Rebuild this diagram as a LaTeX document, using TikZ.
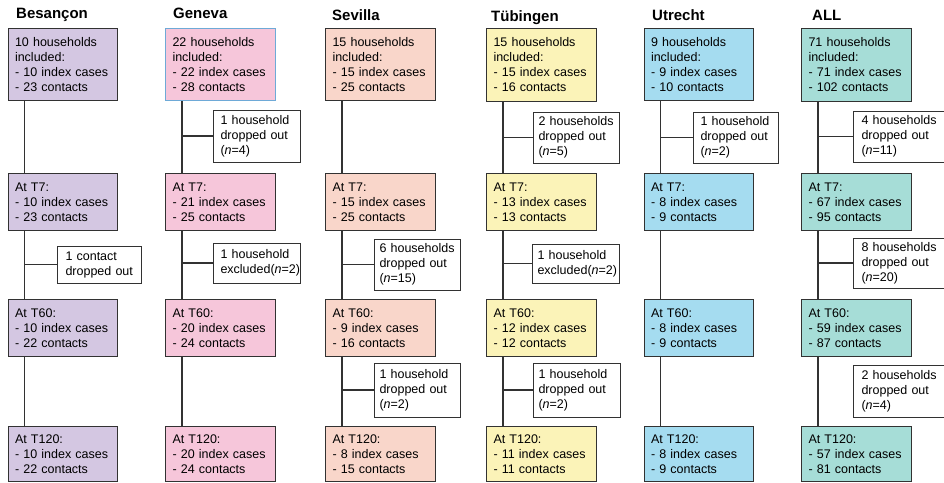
\documentclass[tikz,border=0pt]{standalone}
\usepackage{fontspec}
\setmainfont{Liberation Sans}
\definecolor{cB}{RGB}{212,199,226}
\definecolor{cG}{RGB}{246,198,218}
\definecolor{cS}{RGB}{249,214,202}
\definecolor{cT}{RGB}{251,243,184}
\definecolor{cU}{RGB}{165,220,240}
\definecolor{cA}{RGB}{166,221,215}
\definecolor{boxline}{RGB}{50,50,50}
\definecolor{gline}{RGB}{110,170,215}
\begin{document}
\hyphenpenalty=10000
\exhyphenpenalty=10000
\begin{tikzpicture}[x=1pt,y=-1pt,
  every node/.style={font=\fontsize{12.5}{15}\selectfont},
  mainbox/.style={draw=boxline, line width=1pt, anchor=north west, inner xsep=0pt, inner ysep=0pt,
    minimum width=109.5pt, text width=95.5pt, align=left},
  dropbox/.style={draw=boxline, fill=white, line width=1pt, anchor=west, inner xsep=0pt, inner ysep=0pt, align=left},
  title/.style={font=\fontsize{15}{18}\selectfont\bfseries, anchor=base west, inner sep=0pt},
  link/.style={draw=boxline, line width=1.1pt}]
\useasboundingbox (0,0) rectangle (944,482);

% titles
\node[title] (tB) at (16,18) {Besançon};
\node[title] (tG) at (173,18) {Geneva};
\node[title] (tS) at (332,20) {Sevilla};
\node[title] (tT) at (491,21) {Tübingen};
\node[title] (tU) at (652,20) {Utrecht};
\node[title] (tA) at (812,20) {ALL};

% Besançon
\node[mainbox, fill=cB, minimum height=72.5pt] (B0) at (7.5,27.5) {10 households\\included:\\- 10 index cases\\- 23 contacts};
\node[mainbox, fill=cB, minimum height=57pt] (B1) at (7.5,173) {At T7:\\- 10 index cases\\- 23 contacts};
\node[mainbox, fill=cB, minimum height=57pt] (B2) at (7.5,299) {At T60:\\- 10 index cases\\- 22 contacts};
\node[mainbox, fill=cB, minimum height=55pt] (B3) at (7.5,426) {At T120:\\- 10 index cases\\- 22 contacts};

% Geneva
\node[mainbox, draw=gline, fill=cG, minimum height=72.5pt] (G0) at (165,27.5) {22 households\\included:\\- 22 index cases\\- 28 contacts};
\node[mainbox, fill=cG, minimum height=57pt] (G1) at (165,173) {At T7:\\- 21 index cases\\- 25 contacts};
\node[mainbox, fill=cG, minimum height=57pt] (G2) at (165,299) {At T60:\\- 20 index cases\\- 24 contacts};
\node[mainbox, fill=cG, minimum height=55pt] (G3) at (165,426) {At T120:\\- 20 index cases\\- 24 contacts};

% Sevilla
\node[mainbox, fill=cS, minimum height=72.5pt] (S0) at (325,27.5) {15 households\\included:\\- 15 index cases\\- 25 contacts};
\node[mainbox, fill=cS, minimum height=57pt] (S1) at (325,173) {At T7:\\- 15 index cases\\- 25 contacts};
\node[mainbox, fill=cS, minimum height=57pt] (S2) at (325,299) {At T60:\\- 9 index cases\\- 16 contacts};
\node[mainbox, fill=cS, minimum height=55pt] (S3) at (325,426) {At T120:\\- 8 index cases\\- 15 contacts};

% Tuebingen
\node[mainbox, fill=cT, minimum height=72.5pt] (T0) at (486,28) {15 households\\included:\\- 15 index cases\\- 16 contacts};
\node[mainbox, fill=cT, minimum height=57pt] (T1) at (486,173) {At T7:\\- 13 index cases\\- 13 contacts};
\node[mainbox, fill=cT, minimum height=57pt] (T2) at (486,299) {At T60:\\- 12 index cases\\- 12 contacts};
\node[mainbox, fill=cT, minimum height=55pt] (T3) at (486,426) {At T120:\\- 11 index cases\\- 11 contacts};

% Utrecht
\node[mainbox, fill=cU, minimum height=72.5pt] (U0) at (643.5,27.5) {9 households\\included:\\- 9 index cases\\- 10 contacts};
\node[mainbox, fill=cU, minimum height=57pt] (U1) at (643.5,173) {At T7:\\- 8 index cases\\- 9 contacts};
\node[mainbox, fill=cU, minimum height=57pt] (U2) at (643.5,299) {At T60:\\- 8 index cases\\- 9 contacts};
\node[mainbox, fill=cU, minimum height=55pt] (U3) at (643.5,426) {At T120:\\- 8 index cases\\- 9 contacts};

% ALL
\node[mainbox, fill=cA, minimum height=72.5pt] (A0) at (801,28) {71 households\\included:\\- 71 index cases\\- 102 contacts};
\node[mainbox, fill=cA, minimum height=57pt] (A1) at (801,173) {At T7:\\- 67 index cases\\- 95 contacts};
\node[mainbox, fill=cA, minimum height=57pt] (A2) at (801,299) {At T60:\\- 59 index cases\\- 87 contacts};
\node[mainbox, fill=cA, minimum height=55pt] (A3) at (801,426) {At T120:\\- 57 index cases\\- 81 contacts};

% drop-out boxes
\node[dropbox, minimum width=87pt, text width=73pt, minimum height=52pt] (Gd1) at (213,136) {1~household\\dropped~out\\(\textit{n}=4)};
\node[dropbox, minimum width=86pt, text width=76pt, minimum height=51pt] (Td1) at (533,137.5) {2~households\\dropped~out\\(\textit{n}=5)};
\node[dropbox, minimum width=85pt, text width=71pt, minimum height=51pt] (Ud1) at (693,137.5) {1~household\\dropped~out\\(\textit{n}=2)};
\node[dropbox, minimum width=90.5pt, text width=74.5pt, minimum height=51pt] (Ad1) at (853,136.5) {4~households\\dropped~out\\(\textit{n}=11)};

\node[dropbox, minimum width=84pt, text width=68pt, minimum height=37pt] (Bd2) at (57,264.5) {1~contact\\dropped~out};
\node[dropbox, minimum width=87pt, text width=73pt, minimum height=40pt] (Gd2) at (213,263) {1~household\\excluded(\textit{n}=2)};
\node[dropbox, minimum width=86pt, text width=76pt, minimum height=51pt] (Sd2) at (374,264.5) {6~households\\dropped~out\\(\textit{n}=15)};
\node[dropbox, minimum width=87pt, text width=77pt, minimum height=39pt] (Td2) at (532,263.5) {1~household\\excluded(\textit{n}=2)};
\node[dropbox, minimum width=90.5pt, text width=74.5pt, minimum height=50pt] (Ad2) at (853,263) {8~households\\dropped~out\\(\textit{n}=20)};

\node[dropbox, minimum width=86pt, text width=76pt, minimum height=54pt] (Sd3) at (374,390) {1~household\\dropped~out\\(\textit{n}=2)};
\node[dropbox, minimum width=87pt, text width=77pt, minimum height=54pt] (Td3) at (533,390) {1~household\\dropped~out\\(\textit{n}=2)};
\node[dropbox, minimum width=90.5pt, text width=74.5pt, minimum height=52pt] (Ad3) at (853,391) {2~households\\dropped~out\\(\textit{n}=4)};

% vertical flow lines
\foreach \c in {B,G,S,T,U,A}{
  \coordinate (\c l) at ([xshift=17pt]\c0.south west);
  \draw[link] (\c0.south -| \c l) -- (\c1.north -| \c l);
  \draw[link] (\c1.south -| \c l) -- (\c2.north -| \c l);
  \draw[link] (\c2.south -| \c l) -- (\c3.north -| \c l);
}

% side connectors
\draw[link] (Gl |- Gd1.west) -- (Gd1.west);
\draw[link] (Tl |- Td1.west) -- (Td1.west);
\draw[link] (Ul |- Ud1.west) -- (Ud1.west);
\draw[link] (Al |- Ad1.west) -- (Ad1.west);
\draw[link] (Bl |- Bd2.west) -- (Bd2.west);
\draw[link] (Gl |- Gd2.west) -- (Gd2.west);
\draw[link] (Sl |- Sd2.west) -- (Sd2.west);
\draw[link] (Tl |- Td2.west) -- (Td2.west);
\draw[link] (Al |- Ad2.west) -- (Ad2.west);
\draw[link] (Sl |- Sd3.west) -- (Sd3.west);
\draw[link] (Tl |- Td3.west) -- (Td3.west);
\end{tikzpicture}
\end{document}
